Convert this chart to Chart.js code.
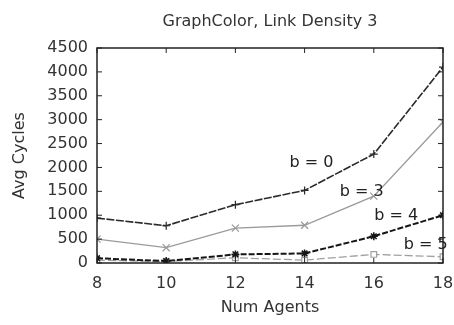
<!DOCTYPE html>
<html>
<head>
<meta charset="utf-8">
<script src="https://cdn.jsdelivr.net/npm/chart.js@4"></script>
<style>
  html, body { margin: 0; padding: 0; background: #fff; }
  #wrap { width: 454px; height: 325px; }
</style>
</head>
<body>
<div id="wrap"><canvas id="graphChart"></canvas></div>
<script>
var numAgents = [8, 10, 12, 14, 16, 18];
var b0 = [940, 780, 1220, 1520, 2280, 4100];
var b3 = [500, 320, 730, 790, 1400, 2950];
var b4 = [100, 40, 180, 200, 560, 1000];
var b5 = [60, 30, 110, 60, 180, 130];
var seriesNames = ['b = 0', 'b = 3', 'b = 4', 'b = 5'];
// where the in-plot labels sit, in data units
var labelX = [14.2, 15.65, 16.65, 17.5];
var labelY = [2090, 1490, 990, 380];
var yTicks = [0, 500, 1000, 1500, 2000, 2500, 3000, 3500, 4000, 4500];

var fontFam = '"DejaVu Sans", Verdana, sans-serif';

function toPoints(vals) {
    return vals.map(function (v, i) { return { x: numAgents[i], y: v }; });
}

// inward tick marks on all four sides plus the box
var frameTicks = {
    id: 'frameTicks',
    afterDatasetsDraw: function (chart) {
        var c = chart.ctx, a = chart.chartArea;
        var xs = chart.scales.x, ys = chart.scales.y;
        c.save();
        c.strokeStyle = '#222';
        c.lineWidth = 1.5;
        c.strokeRect(a.left, a.top, a.right - a.left, a.bottom - a.top);
        c.lineWidth = 1;
        c.beginPath();
        yTicks.forEach(function (t) {
            var py = ys.getPixelForValue(t);
            c.moveTo(a.left, py); c.lineTo(a.left + 5, py);
            c.moveTo(a.right, py); c.lineTo(a.right - 5, py);
        });
        numAgents.forEach(function (t) {
            var px = xs.getPixelForValue(t);
            c.moveTo(px, a.bottom); c.lineTo(px, a.bottom - 5);
            c.moveTo(px, a.top); c.lineTo(px, a.top + 5);
        });
        c.stroke();
        c.fillStyle = '#222';
        c.font = '16px ' + fontFam;
        c.textAlign = 'center';
        c.textBaseline = 'middle';
        seriesNames.forEach(function (n, i) {
            c.fillText(n, xs.getPixelForValue(labelX[i]), ys.getPixelForValue(labelY[i]));
        });
        c.restore();
    }
};

var ctx = document.getElementById('graphChart').getContext('2d');
var graphChart = new Chart(ctx, {
    type: 'line',
    data: {
        datasets: [{
            label: seriesNames[0],
            data: toPoints(b0),
            borderColor: '#2a2a2a',
            borderWidth: 1.6,
            borderDash: [8, 1.5],
            pointStyle: 'cross',
            pointRadius: 4,
            pointBorderColor: '#2a2a2a',
            pointBorderWidth: 1.2
        }, {
            label: seriesNames[1],
            data: toPoints(b3),
            borderColor: '#9a9a9a',
            borderWidth: 1.3,
            pointStyle: 'crossRot',
            pointRadius: 5,
            pointBorderColor: '#9a9a9a',
            pointBorderWidth: 1.2
        }, {
            label: seriesNames[2],
            data: toPoints(b4),
            borderColor: '#151515',
            borderWidth: 2,
            borderDash: [6, 2],
            pointStyle: 'star',
            pointRadius: 4,
            pointBorderColor: '#151515',
            pointBorderWidth: 1.5
        }, {
            label: seriesNames[3],
            data: toPoints(b5),
            borderColor: '#a0a0a0',
            borderWidth: 1.3,
            borderDash: [8, 3],
            pointStyle: 'rect',
            pointRadius: 4,
            pointBackgroundColor: '#fff',
            pointBorderColor: '#a0a0a0',
            pointBorderWidth: 1.2
        }]
    },
    options: {
        responsive: true,
        maintainAspectRatio: false,
        animation: false,
        layout: { padding: { left: 0, right: 0, top: 0, bottom: 8 } },
        plugins: {
            legend: { display: false },
            tooltip: { enabled: false },
            title: {
                display: true,
                fullSize: false,
                text: 'GraphColor, Link Density 3',
                color: '#333',
                font: { family: fontFam, size: 16, weight: 'normal' },
                padding: { top: 12, bottom: 16.8 }
            }
        },
        scales: {
            x: {
                type: 'linear',
                min: 8,
                max: 18,
                afterBuildTicks: function (s) {
                    s.ticks = numAgents.map(function (v) { return { value: v }; });
                },
                afterFit: function (s) {
                    s.height = 54;
                    s.paddingRight = 11;
                    s.paddingLeft = 0;
                },
                grid: { display: false, drawTicks: false },
                border: { display: false },
                ticks: {
                    color: '#333',
                    padding: 11,
                    maxRotation: 0,
                    font: { family: fontFam, size: 16 }
                },
                title: {
                    display: true,
                    text: 'Num Agents',
                    color: '#333',
                    padding: { top: 0, bottom: 0 },
                    font: { family: fontFam, size: 16 }
                }
            },
            y: {
                min: 0,
                max: 4500,
                afterBuildTicks: function (s) {
                    s.ticks = yTicks.map(function (v) { return { value: v }; });
                },
                afterFit: function (s) { s.width = 97; },
                grid: { display: false, drawTicks: false },
                border: { display: false },
                ticks: {
                    color: '#333',
                    padding: 9,
                    callback: function (v) { return String(v); },
                    font: { family: fontFam, size: 16 }
                },
                title: {
                    display: true,
                    text: 'Avg Cycles',
                    color: '#333',
                    padding: { top: 10, bottom: 4 },
                    font: { family: fontFam, size: 16 }
                }
            }
        }
    },
    plugins: [frameTicks]
});
</script>
</body>
</html>
